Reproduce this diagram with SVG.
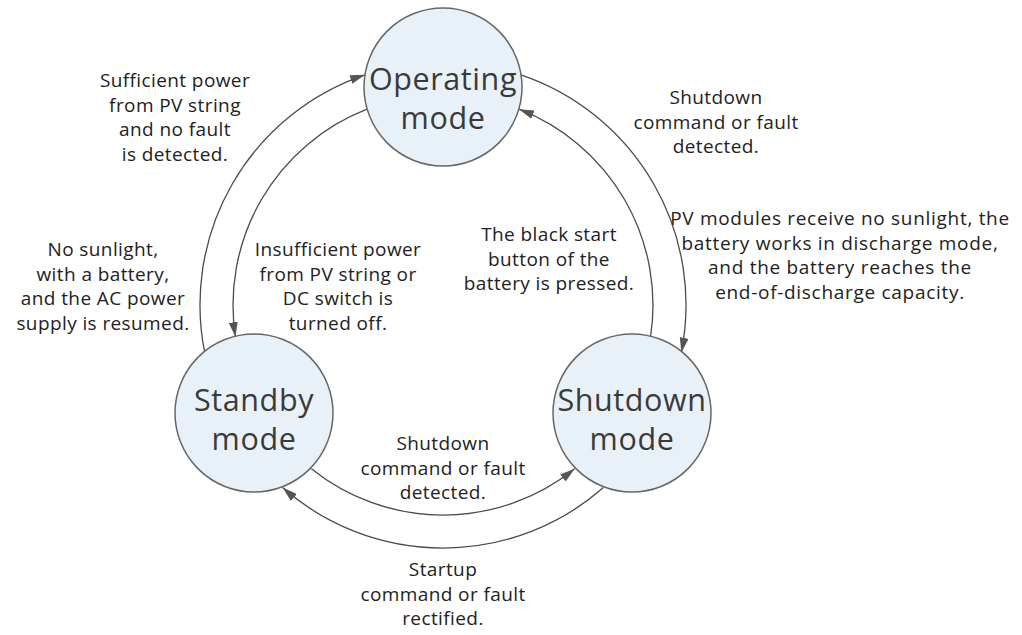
<svg xmlns="http://www.w3.org/2000/svg" width="1022" height="635" viewBox="0 0 1022 635">
<style>
.node circle{fill:#e9f1f8;stroke:#666;stroke-width:1.5}
.node text{font-family:"Open Sans","Liberation Sans",sans-serif;font-size:30.5px;fill:#3a3a3a;text-anchor:middle;letter-spacing:0.6px}
.lbl{font-family:"Open Sans","Liberation Sans",sans-serif;font-size:19px;fill:#222;text-anchor:middle;letter-spacing:0.4px}
.wide{letter-spacing:0.7px}
.conn path{fill:none;stroke:#4a4a4a;stroke-width:1.3;marker-end:url(#ah)}
</style>
<defs>
<marker id="ah" markerUnits="userSpaceOnUse" markerWidth="16" markerHeight="10" refX="15" refY="4.5" orient="auto">
<path d="M0,0 L15,4.5 L0,9 Z" fill="#555"/>
</marker>
</defs>
<rect width="1022" height="635" fill="#fff"/>
<g id="connectors" class="conn">
<path d="M204.7,352.6 A243,243 0 0 1 365.1,74.8"/>
<path d="M367.1,109.2 A210,210 0 0 0 235.5,337.1"/>
<path d="M520.9,74.8 A243,243 0 0 1 681.3,352.6"/>
<path d="M650.5,337.1 A210,210 0 0 0 518.9,109.2"/>
<path d="M311.4,468.7 A210,210 0 0 0 574.6,468.7"/>
<path d="M603.4,487.6 A243,243 0 0 1 282.6,487.6"/>
</g>
<g id="operating" class="node">
<circle cx="443" cy="87" r="79"/>
<text x="443" y="90">Operating</text>
<text x="443" y="128.5">mode</text>
</g>
<g id="standby" class="node">
<circle cx="254" cy="413" r="79"/>
<text x="254" y="411">Standby</text>
<text x="254" y="449.5">mode</text>
</g>
<g id="shutdown" class="node">
<circle cx="632" cy="413" r="79"/>
<text x="632" y="411">Shutdown</text>
<text x="632" y="449.5">mode</text>
</g>
<g id="labels">
<text class="lbl" x="175" y="87">Sufficient power</text>
<text class="lbl" x="175" y="111.5">from PV string</text>
<text class="lbl" x="175" y="136">and no fault</text>
<text class="lbl" x="175" y="160.5">is detected.</text>
<text class="lbl" x="103" y="256">No sunlight,</text>
<text class="lbl" x="103" y="280.5">with a battery,</text>
<text class="lbl" x="103" y="305">and the AC power</text>
<text class="lbl" x="103" y="329.5">supply is resumed.</text>
<text class="lbl" x="338" y="256">Insufficient power</text>
<text class="lbl" x="338" y="280.5">from PV string or</text>
<text class="lbl" x="338" y="305">DC switch is</text>
<text class="lbl" x="338" y="329.5">turned off.</text>
<text class="lbl" x="549" y="241">The black start</text>
<text class="lbl" x="549" y="265.5">button of the</text>
<text class="lbl" x="549" y="290">battery is pressed.</text>
<text class="lbl" x="716" y="104">Shutdown</text>
<text class="lbl" x="716" y="128.5">command or fault</text>
<text class="lbl" x="716" y="153">detected.</text>
<text class="lbl wide" x="840" y="225">PV modules receive no sunlight, the</text>
<text class="lbl wide" x="840" y="249.5">battery works in discharge mode,</text>
<text class="lbl wide" x="840" y="274">and the battery reaches the</text>
<text class="lbl wide" x="840" y="298.5">end-of-discharge capacity.</text>
<text class="lbl" x="443" y="450">Shutdown</text>
<text class="lbl" x="443" y="474.5">command or fault</text>
<text class="lbl" x="443" y="499">detected.</text>
<text class="lbl" x="443" y="576">Startup</text>
<text class="lbl" x="443" y="600.5">command or fault</text>
<text class="lbl" x="443" y="625">rectified.</text>
</g>
</svg>
